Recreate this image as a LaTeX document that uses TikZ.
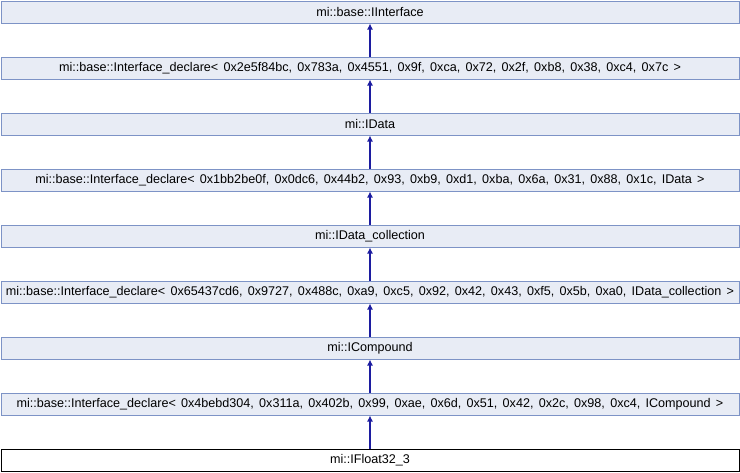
\documentclass[tikz,border=0pt]{standalone}
\usepackage{fontspec}
\setmainfont[WordSpace=1.5]{Liberation Sans}
\usetikzlibrary{positioning,arrows.meta}
\definecolor{boxfill}{HTML}{E8ECF5}
\definecolor{boxline}{HTML}{7D93C6}
\definecolor{arrowblue}{HTML}{1C1CA0}
\tikzset{
  classbox/.style={draw=boxline, fill=boxfill, line width=1pt, minimum width=738pt, minimum height=22pt, inner sep=0pt, font=\fontsize{12.6}{14}\selectfont},
  thisbox/.style={classbox, draw=black, fill=white},
  inherit/.style={draw=arrowblue, line width=1.4pt, -{Latex[length=6pt,width=6pt]}}
}
\begin{document}
\begin{tikzpicture}[x=1pt, y=-1pt, node distance=33pt]
			%%%%% START %%%%%
			\useasboundingbox (0,0) rectangle (740,472);
			
			\node[classbox, anchor=north] (iface) at (370, 0.5) {mi::base::IInterface};
			\node[classbox, below=of iface] (decla) {mi::base::Interface\_declare< 0x2e5f84bc, 0x783a, 0x4551, 0x9f, 0xca, 0x72, 0x2f, 0xb8, 0x38, 0xc4, 0x7c >};
			\node[classbox, below=of decla] (idata) {mi::IData};
			\node[classbox, below=of idata] (declb) {mi::base::Interface\_declare< 0x1bb2be0f, 0x0dc6, 0x44b2, 0x93, 0xb9, 0xd1, 0xba, 0x6a, 0x31, 0x88, 0x1c, IData >};
			\node[classbox, below=of declb] (coll) {mi::IData\_collection};
			\node[classbox, below=of coll] (declc) {mi::base::Interface\_declare< 0x65437cd6, 0x9727, 0x488c, 0xa9, 0xc5, 0x92, 0x42, 0x43, 0xf5, 0x5b, 0xa0, IData\_collection >};
			\node[classbox, below=of declc] (compound) {mi::ICompound};
			\node[classbox, below=of compound] (decld) {mi::base::Interface\_declare< 0x4bebd304, 0x311a, 0x402b, 0x99, 0xae, 0x6d, 0x51, 0x42, 0x2c, 0x98, 0xc4, ICompound >};
			\node[thisbox, below=of decld] (float) {mi::IFloat32\_3};
			
			\draw[inherit] (decla) -- (iface);
			\draw[inherit] (idata) -- (decla);
			\draw[inherit] (declb) -- (idata);
			\draw[inherit] (coll) -- (declb);
			\draw[inherit] (declc) -- (coll);
			\draw[inherit] (compound) -- (declc);
			\draw[inherit] (decld) -- (compound);
			\draw[inherit] (float) -- (decld);
			
			%%%%% END %%%%%
\end{tikzpicture}
\end{document}
